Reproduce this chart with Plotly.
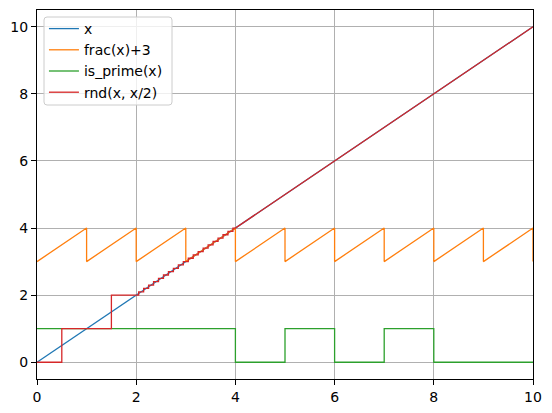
import plotly.graph_objects as go

# ---- data ----
x_x = [0, 10]
x_y = [0, 10]

frac_x = [0, 1, 1, 2, 2, 3, 3, 4, 4, 5, 5, 6, 6, 7, 7, 8, 8, 9, 9, 10, 10]
frac_y = [3, 4, 3, 4, 3, 4, 3, 4, 3, 4, 3, 4, 3, 4, 3, 4, 3, 4, 3, 4, 3]

prime_x = [0, 4, 4, 5, 5, 6, 6, 7, 7, 8, 8, 10]
prime_y = [1, 1, 0, 0, 1, 1, 0, 0, 1, 1, 0, 0]

# rnd(x, x/2): step edges and levels, then follows x from 4 to 10
rnd_edges = [0, 0.5, 1.5, 2.05, 2.15, 2.25, 2.35, 2.45, 2.55, 2.65, 2.75, 2.85,
             2.95, 3.05, 3.15, 3.25, 3.35, 3.45, 3.55, 3.65, 3.75, 3.85, 3.95, 4.0]
rnd_levels = [0, 1, 2, 2.1, 2.2, 2.3, 2.4, 2.5, 2.6, 2.7, 2.8, 2.9,
              3.0, 3.1, 3.2, 3.3, 3.4, 3.5, 3.6, 3.7, 3.8, 3.9, 4.0]
rnd_tail_x = [10]
rnd_tail_y = [10]

x_ticks = [0, 2, 4, 6, 8, 10]
y_ticks = [0, 2, 4, 6, 8, 10]

# build step vertices for rnd trace
rx, ry = [], []
for i, lev in enumerate(rnd_levels):
    rx += [rnd_edges[i], rnd_edges[i + 1]]
    ry += [lev, lev]
rx += rnd_tail_x
ry += rnd_tail_y

colors = ["#1f77b4", "#ff7f0e", "#2ca02c", "#d62728"]
lw = 1.3

fig = go.Figure()
fig.add_trace(go.Scatter(x=x_x, y=x_y, mode="lines", name="x",
                         line=dict(color=colors[0], width=lw)))
fig.add_trace(go.Scatter(x=frac_x, y=frac_y, mode="lines", name="frac(x)+3",
                         line=dict(color=colors[1], width=lw)))
fig.add_trace(go.Scatter(x=prime_x, y=prime_y, mode="lines", name="is_prime(x)",
                         line=dict(color=colors[2], width=lw)))
fig.add_trace(go.Scatter(x=rx, y=ry, mode="lines", name="rnd(x, x/2)",
                         line=dict(color=colors[3], width=lw)))

axis_common = dict(
    showline=True, linecolor="black", linewidth=1, mirror=True,
    ticks="outside", ticklen=5, tickwidth=1, tickcolor="black",
    showgrid=True, gridcolor="#b0b0b0", gridwidth=1,
    zeroline=False, automargin=False,
    tickfont=dict(family="DejaVu Sans", size=14, color="black"),
)

fig.update_xaxes(range=[0, 10], tickvals=x_ticks, **axis_common)
fig.update_yaxes(range=[-0.5, 10.5], tickvals=y_ticks, **axis_common)

# plot area size in px (for converting the legend box to paper coords)
W, H = 544, 397
ML, MR, MT, MB = 29, 19, 2, 26
PW, PH = W - ML - MR, H - MT - MB

# legend frame (rounded, like matplotlib), in paper coords
bx0, bx1 = 7 / PW, 135 / PW
by1, by0 = 1 - 7 / PH, 1 - 95 / PH
rxp, ryp = 3 / PW, 3 / PH
path = (f"M {bx0 + rxp} {by1} L {bx1 - rxp} {by1} Q {bx1} {by1} {bx1} {by1 - ryp} "
        f"L {bx1} {by0 + ryp} Q {bx1} {by0} {bx1 - rxp} {by0} "
        f"L {bx0 + rxp} {by0} Q {bx0} {by0} {bx0} {by0 + ryp} "
        f"L {bx0} {by1 - ryp} Q {bx0} {by1} {bx0 + rxp} {by1} Z")
fig.add_shape(type="path", path=path, xref="paper", yref="paper",
              fillcolor="rgba(255,255,255,0.8)", line=dict(color="#cccccc", width=1),
              layer="above")

# page body has an 8px margin, so the figure is sized/offset to compensate
fig.update_layout(
    width=W, height=H,
    margin=dict(l=ML, r=MR, t=MT, b=MB),
    plot_bgcolor="white", paper_bgcolor="white",
    font=dict(family="DejaVu Sans", size=14, color="black"),
    showlegend=True,
    legend=dict(
        x=0.014, y=1 - 3 / PH, xanchor="left", yanchor="top",
        bgcolor="rgba(0,0,0,0)", borderwidth=0,
        font=dict(family="DejaVu Sans", size=14, color="black"),
        tracegroupgap=0, itemwidth=30,
    ),
)

fig.write_html("out.html")
